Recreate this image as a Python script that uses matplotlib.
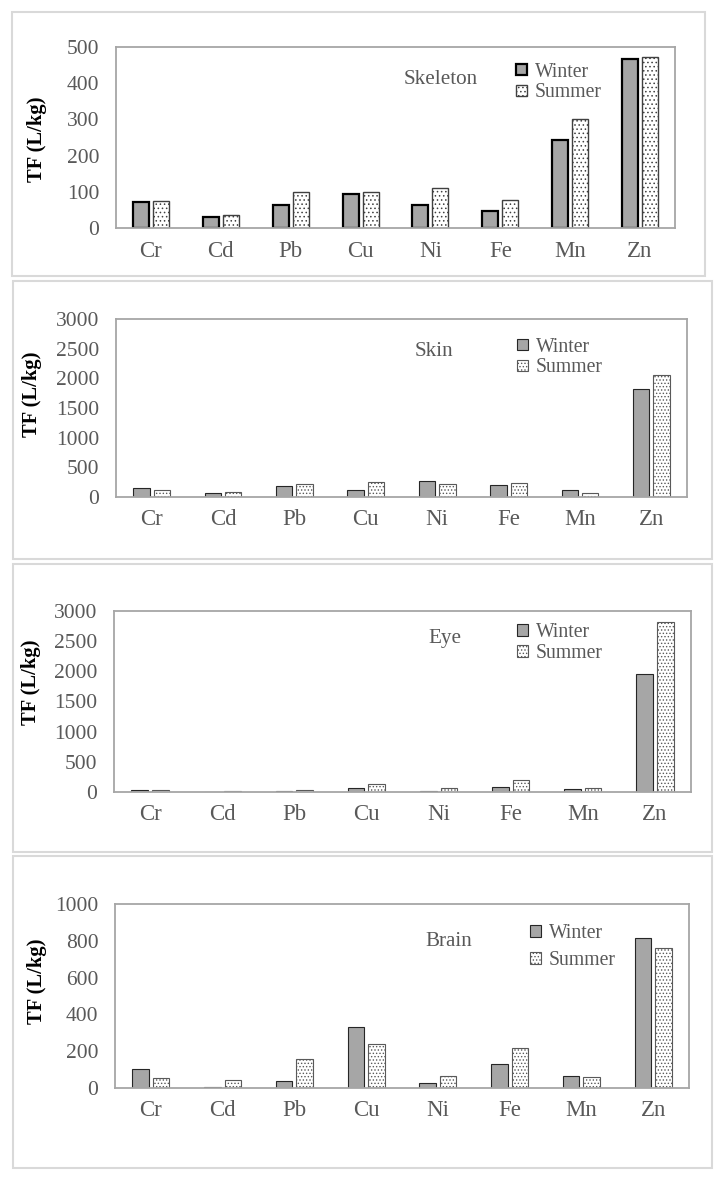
import matplotlib
matplotlib.use('Agg')
import matplotlib.pyplot as plt
from matplotlib.patches import Rectangle, Patch
import numpy as np

metals = ['Cr', 'Cd', 'Pb', 'Cu', 'Ni', 'Fe', 'Mn', 'Zn']
skeleton_winter = [71, 31, 64, 93, 64, 48, 242, 466]
skeleton_summer = [74, 37, 100, 99, 111, 77, 302, 472]
skin_winter = [158, 68, 191, 118, 265, 208, 118, 1824]
skin_summer = [124, 79, 225, 248, 220, 231, 73, 2060]
eye_winter = [28, 2, 17, 61, 17, 77, 44, 1954]
eye_summer = [28, 17, 33, 133, 61, 194, 66, 2823]
brain_winter = [105, 7, 40, 334, 29, 132, 67, 817]
brain_summer = [56, 45, 160, 238, 65, 220, 60, 762]
panel_titles = ['Skeleton', 'Skin', 'Eye', 'Brain']
series_labels = ['Winter', 'Summer']
y_max = [500, 3000, 3000, 1000]
y_step = [100, 500, 500, 200]
y_label = 'TF (L/kg)'

plt.rcParams['font.family'] = ['Liberation Serif', 'DejaVu Serif']
plt.rcParams['hatch.linewidth'] = 0.6

W, H = 718, 1178
fig = plt.figure(figsize=(W / 100, H / 100), dpi=100)

def fx(x):
    return x / W

def fy(y):
    return 1 - y / H

# layout in pixels
axes_px = [(116, 675, 47, 228), (116, 687, 319, 497), (114, 691, 611, 792), (115, 689, 904, 1088)]
frames_px = [(12, 705, 12, 276), (13, 712, 281, 559), (13, 712, 564, 852), (13, 712, 856, 1168)]
title_px = [(441, 80), (434, 352), (445, 639), (449, 941)]
legend_px = [(516, 82.5, 0.1), (517, 357.5, 0.1), (517, 643, 0.06), (530, 947, 0.4)]
ylabel_px = [(37, 139), (32, 394), (31, 682), (37, 981)]

data = [(skeleton_winter, skeleton_summer), (skin_winter, skin_summer),
        (eye_winter, eye_summer), (brain_winter, brain_summer)]

gray_text = '#595959'
winter_fc = '#a6a6a6'

for i in range(4):
    fl, fr, ft, fb = frames_px[i]
    fig.patches.append(Rectangle((fx(fl), fy(fb)), fx(fr) - fx(fl), fy(ft) - fy(fb),
                                 transform=fig.transFigure, fill=False,
                                 ec='#d9d9d9', lw=1.5, zorder=0))
    l, r, t, b = axes_px[i]
    ax = fig.add_axes([fx(l), fy(b), fx(r) - fx(l), fy(t) - fy(b)])
    w, s = data[i]
    x = np.arange(len(metals))
    bw = 0.23
    off = 0.143
    if i == 0:
        wec, wlw = 'black', 1.6
        sec, slw = '#404040', 1.0
        hatch = '....'
    else:
        wec, wlw = '#262626', 0.8
        sec, slw = '#595959', 0.8
        hatch = '.....'
    ax.bar(x - off, w, bw, color=winter_fc, edgecolor=wec, linewidth=wlw, zorder=2)
    ax.bar(x + off, s, bw, color='white', edgecolor=sec, linewidth=slw,
           hatch=hatch, zorder=2)
    ax.set_xlim(-0.5, len(metals) - 0.5)
    ax.set_ylim(0, y_max[i])
    ax.set_yticks(np.arange(0, y_max[i] + 1, y_step[i]))
    ax.set_xticks(x)
    ax.set_xticklabels(metals)
    ax.tick_params(axis='both', length=0, colors=gray_text)
    ax.tick_params(axis='x', labelsize=16.5, pad=9)
    ax.tick_params(axis='y', labelsize=15.5, pad=12)
    for sp in ax.spines.values():
        sp.set_color('#a6a6a6')
        sp.set_linewidth(1.3)
    tx, ty = title_px[i]
    fig.text(fx(tx), fy(ty), panel_titles[i], ha='center', va='center',
             fontsize=15.2, color=gray_text)
    lx, ly, ls = legend_px[i]
    handles = [Patch(facecolor=winter_fc, edgecolor=wec, linewidth=wlw),
               Patch(facecolor='white', edgecolor=sec, linewidth=slw, hatch=hatch)]
    ax.legend(handles, series_labels, loc='center left',
              bbox_to_anchor=(fx(lx), fy(ly)), bbox_transform=fig.transFigure,
              frameon=False, fontsize=14.2, handlelength=0.55, handleheight=0.55,
              handletextpad=0.4, labelspacing=ls, borderpad=0, borderaxespad=0,
              labelcolor=gray_text)
    yx, yy = ylabel_px[i]
    fig.text(fx(yx), fy(yy), y_label, rotation=90, ha='center', va='center',
             fontsize=14.8, fontweight='bold', color='black')

fig.savefig('out.png', dpi=100, facecolor='white')
